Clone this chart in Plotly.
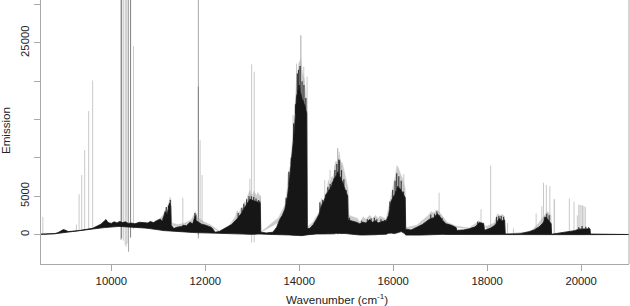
import numpy as np
import plotly.graph_objects as go

# Emission band: x, upper edge of the solid region, lower edge of the solid region (10 per row)
band_x = [8390,8800,8870,8930,8980,9040,9080,9300,9600,9780,
          9850,9887,9930,9970,10000,10060,10120,10180,10240,10300,
          10360,10420,10500,10600,10700,10780,10828,10900,10960,11040,
          11090,11146,11190,11238,11265,11275,11330,11400,11500,11530,
          11600,11677,11730,11783,11810,11850,11920,11990,12060,12120,
          12165,12207,12300,12456,12560,12670,12760,12845,12900,12950,
          13040,13120,13170,13180,13300,13440,13520,13588,13640,13694,
          13750,13800,13864,13900,13942,13998,14048,14085,14118,14160,
          14172,14225,14300,14367,14420,14473,14530,14580,14640,14686,
          14740,14780,14820,14870,14926,14980,15032,15042,15100,15216,
          15286,15360,15420,15499,15560,15620,15680,15760,15853,15900,
          15959,16030,16100,16170,16241,16256,16266,16380,16490,16620,
          16773,16860,16943,17000,17060,17127,17240,17340,17360,17380,
          17500,17622,17740,17834,17925,17945,18080,18170,18258,18320,
          18372,18385,18700,18895,19000,19108,19190,19250,19310,19362,
          19372,19426,19600,19745,19860,19957,20100,20190,20200,20500,
          20800,21020]
band_top = [0,120,260,420,640,520,380,500,800,1350,
            1700,1950,1550,1450,1450,1650,1500,1700,1550,1650,
            1450,1500,1400,1600,1550,1500,1700,1550,1800,2000,
            1750,3000,2700,4100,3700,1200,800,950,1050,1200,
            1150,1600,1400,2400,1800,1600,1350,1250,1100,950,
            700,300,400,900,1300,2000,2700,3600,4100,4600,
            4400,4200,4100,300,200,300,950,2000,2500,3300,
            5000,7500,11000,13800,18000,19500,18000,17400,16900,15800,
            800,800,1300,2000,2600,3800,4400,5300,5900,6300,
            7300,7600,8200,7600,6800,5800,5000,2000,1800,1600,
            1400,1600,1500,1950,1600,1800,1500,1700,1800,2500,
            4400,5200,6300,5800,5000,4800,700,600,900,1300,
            2000,2200,2700,2200,1800,1400,1200,900,500,550,
            600,750,1000,1550,1450,550,850,1250,2100,1800,
            1900,60,100,370,600,1000,1500,2300,1800,1400,
            40,100,200,370,500,700,750,750,60,40,
            20,0]
band_bottom = [0,100,190,240,280,310,340,500,700,850,
               900,950,980,1000,1000,1020,1030,1050,1040,1050,
               1040,1000,980,900,850,800,720,650,620,580,
               520,480,430,400,370,370,370,340,330,300,
               300,290,270,250,240,230,210,190,170,160,
               140,130,120,110,100,80,60,50,30,-30,
               20,60,70,60,20,10,10,0,-30,-50,
               -60,-60,-100,-120,-140,-130,-150,-140,-100,-50,
               20,50,60,70,70,90,80,110,120,100,
               90,160,220,200,160,130,90,40,20,-40,
               -60,-70,-40,-20,-60,-30,0,-30,40,170,
               180,120,240,380,160,60,-70,-90,-80,-70,
               -40,-20,0,20,20,0,-30,-60,-70,-70,
               -80,-90,-90,-80,-60,-70,-50,-40,-40,-50,
               -40,-50,-50,-50,-40,-30,-30,-30,-40,-30,
               -30,-30,-20,-20,-20,-20,-20,-20,-20,-20,
               -10,0]

# Soft grey region: peak envelope of the unresolved lines above the solid band
soft_x = [11000,11100,11160,11200,11250,11272,11285,11420,11560,11700,
          11790,11815,11850,11990,12100,12300,12500,12640,12680,12720,
          12760,12790,12830,12860,12900,12950,13000,13040,13090,13120,
          13175,13190,13560,13690,13730,13770,13810,13860,13900,13940,
          13970,13990,14035,14070,14110,14140,14165,14178,14290,14430,
          14470,14520,14590,14620,14650,14690,14730,14770,14820,14850,
          14880,14920,14960,15000,15040,15060,15240,15290,15360,15420,
          15500,15560,15620,15680,15720,15850,15960,16000,16050,16080,
          16110,16150,16200,16255,16270,16500,16750,16810,16870,16920,
          16960,17010,17060,17150,17340,17620,17830,17930,18000,18150,
          18220,18270,18330,18370,18390,18900,19100,19200,19280,19360,
          19372]
soft_top = [1900,2500,3400,3300,4900,4500,1500,1300,1500,1900,
            3000,2400,2200,1600,1300,450,1100,2300,3100,2800,
            3500,3300,4300,4100,5000,5800,5100,5700,5000,5500,
            4800,350,2200,3800,5100,8000,9000,12500,15500,20000,
            21000,22300,23000,21000,20300,18000,17500,1000,1600,3000,
            4700,4500,5800,7100,6500,7500,7600,9500,9500,10800,
            9500,9300,8200,7200,6000,2500,2100,1600,2300,2000,
            2500,2100,2500,2100,2400,2000,5100,6500,7800,9000,
            8700,8000,7300,6000,900,1200,2500,3000,2800,3200,
            3100,2700,2300,1600,1100,850,1800,1000,1100,1500,
            2700,2500,2600,2400,100,200,1500,2400,3000,2500,
            100]

# Dense short lines that roughen the top of the solid band
rough_x = [11100,11170,11215,11255,11780,11800,12700,12780,12820,12880,
           12930,12980,13030,13080,13130,13160,13720,13780,13830,13880,
           13920,13960,13985,14020,14060,14100,14140,14440,14500,14560,
           14610,14660,14700,14760,14800,14840,14860,14900,14950,15000,
           15070,15330,15450,15530,15600,15650,15740,15820,15930,15990,
           16040,16075,16120,16170,16220,16800,16880,16930,16990,17040,
           17800,18200,18250,18300,18350,19220,19270,19320,19950,20020,
           20100,20160]
rough_top = [2200,3600,3800,4500,2800,2600,2800,3500,4000,4600,
             5000,5000,4900,4700,4500,4400,4800,8200,10000,14500,
             17000,21000,21500,22000,20000,19500,17800,4200,4500,5200,
             6200,6600,6800,8400,9200,9800,9700,8400,7200,5800,
             2200,1800,2000,2100,2200,2000,2000,1900,4300,5800,
             7000,8000,7600,7000,5600,2600,2700,3000,2500,2200,
             1700,2300,2400,2400,2300,2300,2700,2500,950,1100,
             1000,950]

# Isolated spectral lines: x, top, bottom (grouped by how dark they print)
faint_x = [8542,9257,9314,9370,9433,9518,9603,10255,10295,10316,
           10337,10473,11522,11890,11932,12950,13175,13765,13870,13942,
           14097,14167,14544,14656,14760,14900,16226,16978,17870,18075,
           18435,18560,19043,19165,19200,19260,19335,19426,19436,19750,
           19850,19920,19950,19975,20000,20030,20060,20090,12987,13042]
faint_top = [2300,1300,5250,7750,11000,16100,20100,30600,30600,30600,
             30600,24600,4800,12300,7750,7300,5100,8000,15600,22300,
             21900,20600,7100,8400,9100,9000,7900,5450,3300,9000,
             1500,800,2750,3700,6760,6450,6300,4600,4600,4700,
             4300,2500,3900,3850,3850,3800,3700,3600,22200,21250]
faint_bottom = [0,500,500,550,550,650,700,-800,-1350,-1600,
                -1200,700,800,200,200,0,0,0,0,0,
                0,0,0,0,0,0,0,0,0,0,
                0,0,0,0,0,0,0,0,0,0,
                0,0,0,0,0,0,0,0,-1070,-1000]
medium_x = [10205,10367,11853,14035,14820]
medium_top = [30600,30600,30600,26000,11250]
medium_bottom = [-700,-2250,-500,0,0]
dark_x = [10219,10410,11853,14005]
dark_top = [30600,30600,19300,22000]
dark_bottom = [-500,-400,0,0]

x_ticks = [10000,12000,14000,16000,18000,20000]
y_label_ticks = [0,5000,25000]
y_other_ticks = [10000,15000,20000,30000]
x_range = [8503,21020]
y_range = [-3850,30600]


def sticks(xs, tops, bottoms):
    px, py = [], []
    for a, t, b in zip(xs, tops, bottoms):
        px += [a, a, None]
        py += [b, t, None]
    return px, py


fig = go.Figure()
for xs, ts, bs, col in [(faint_x, faint_top, faint_bottom, "#c9c9c9"),
                        (medium_x, medium_top, medium_bottom, "#a6a6a6"),
                        (dark_x, dark_top, dark_bottom, "#808080")]:
    px, py = sticks(xs, ts, bs)
    fig.add_trace(go.Scatter(x=px, y=py, mode="lines", line=dict(color=col, width=1),
                             hoverinfo="skip"))
soft_floor = np.interp(soft_x, band_x, band_top).tolist()
fig.add_trace(go.Scatter(x=soft_x + soft_x[::-1], y=soft_top + soft_floor[::-1], mode="lines",
                         line=dict(width=0.4, color="#c4c4c4"), fill="toself",
                         fillcolor="rgba(170,170,170,0.6)", hoverinfo="skip"))
rough_floor = np.interp(rough_x, band_x, band_top).tolist()
rx, ry = sticks(rough_x, rough_top, rough_floor)
fig.add_trace(go.Scatter(x=rx, y=ry, mode="lines", line=dict(color="#3a3a3a", width=1.2),
                         hoverinfo="skip"))
fig.add_trace(go.Scatter(x=band_x + band_x[::-1], y=band_top + band_bottom[::-1], mode="lines",
                         line=dict(color="#161616", width=0.8), fill="toself", fillcolor="#161616",
                         hoverinfo="skip", cliponaxis=False))

axis_col = "#a8a8a8"
tick_style = dict(ticks="outside", ticklen=6, tickcolor=axis_col, tickwidth=1)
fig.update_layout(
    width=630, height=306, showlegend=False, plot_bgcolor="white", paper_bgcolor="white",
    margin=dict(l=40.5, r=0.5, t=0, b=42, autoexpand=False),
    font=dict(family="Liberation Sans, Arial, sans-serif", size=12, color="#222222"),
    xaxis=dict(range=x_range, tickmode="array", tickvals=x_ticks, ticktext=[str(v) for v in x_ticks],
               showgrid=False, zeroline=False, showline=True, linecolor=axis_col, linewidth=1,
               tickfont=dict(size=11.3), automargin=False, **tick_style),
    yaxis=dict(range=y_range, tickmode="array", tickvals=y_label_ticks,
               ticktext=[str(v) for v in y_label_ticks],
               showgrid=False, zeroline=False, showline=True, linecolor=axis_col, linewidth=1,
               tickangle=-90, tickfont=dict(size=11.3), automargin=False,
               minor=dict(tickmode="array", tickvals=y_other_ticks, **tick_style), **tick_style),
    annotations=[
        dict(text="Wavenumber (cm<sup>-1</sup>)", xref="paper", yref="paper",
             x=(337 - 40.5) / 589, y=-35 / 264, xanchor="center", yanchor="middle",
             showarrow=False, font=dict(size=11.6)),
        dict(text="Emission", xref="paper", yref="paper", textangle=-90,
             x=-35.5 / 589, y=(264 - 130.5) / 264, xanchor="center", yanchor="middle",
             showarrow=False, font=dict(size=11.6)),
    ],
)
fig.add_shape(type="line", xref="paper", yref="paper", x0=1, x1=1, y0=0, y1=1,
              line=dict(color=axis_col, width=1))
fig.write_html("out.html", config=dict(displayModeBar=False),
               post_script="document.body.style.margin='0';document.documentElement.style.overflow='hidden';")
